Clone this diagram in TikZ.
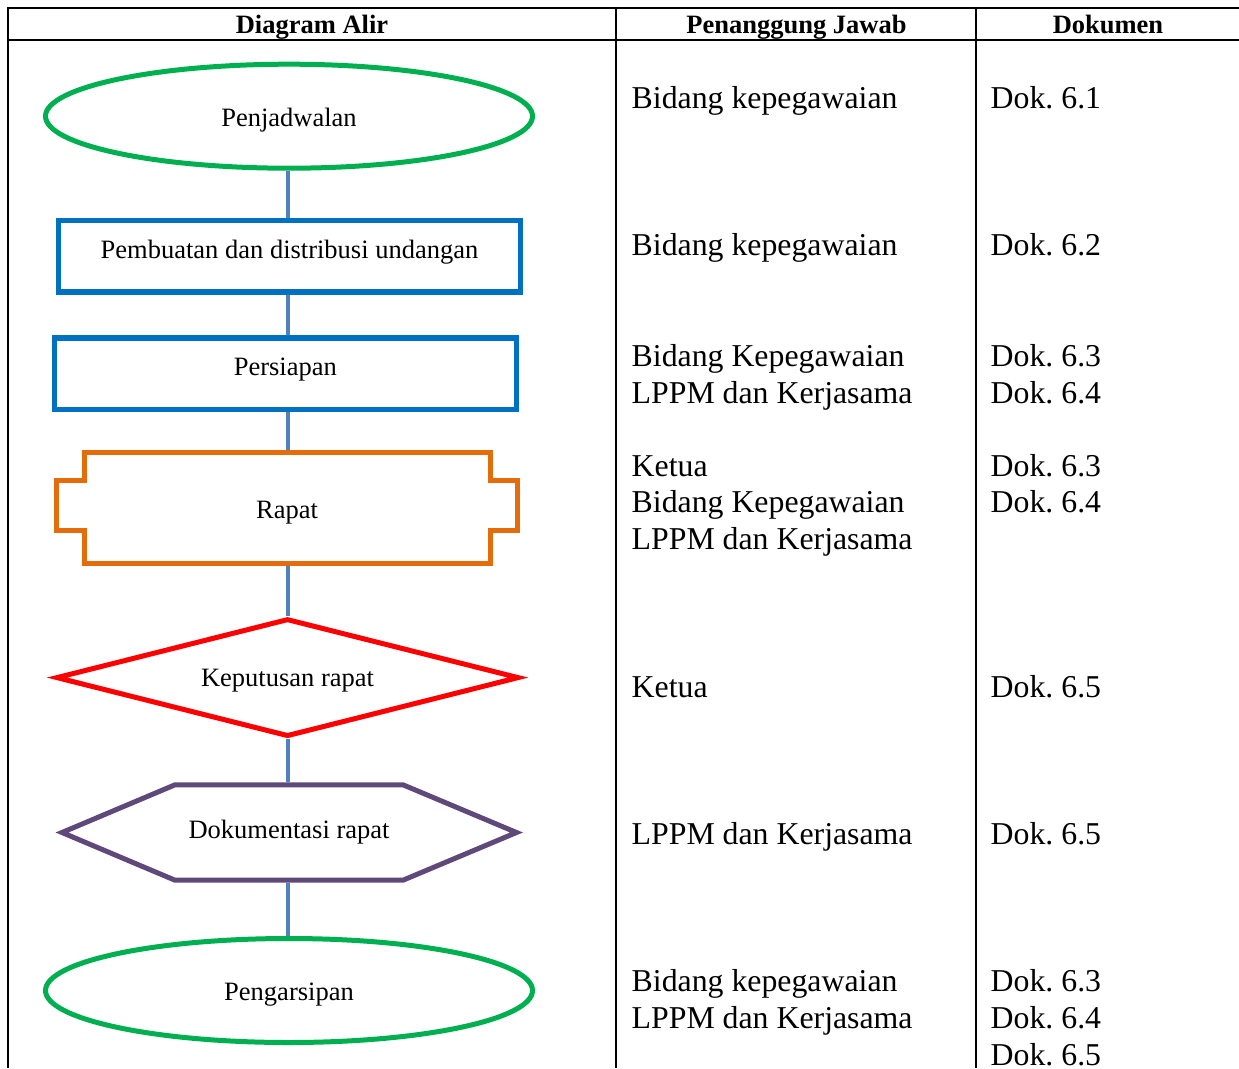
\documentclass[tikz,border=0pt]{standalone}
\usepackage{fontspec}
\setmainfont{Liberation Serif}
\usepackage{tikz}
\usetikzlibrary{shapes.geometric}
\frenchspacing

\definecolor{alirgreen}{HTML}{00B050}
\definecolor{alirblue}{HTML}{0070C0}
\definecolor{linkblue}{HTML}{4F81BD}
\definecolor{alirorange}{HTML}{E46C0A}
\definecolor{alirpurple}{HTML}{5F497A}

\newcommand{\flowfont}{\fontsize{26.5}{32}\selectfont}
\newcommand{\headfont}{\fontsize{26.5}{32}\selectfont\bfseries}
\newcommand{\cellfont}{\fontsize{31.8}{36.5}\selectfont}

% flowchart shapes
\tikzstyle{terminal}=[draw=alirgreen,%
                      ellipse,%
                      line width     = 5pt,%
                      minimum width  = 487pt,%
                      minimum height = 104pt,%
                      text height    = 26pt,%
                      font=\flowfont]
\tikzstyle{process}=[draw=alirblue, rectangle, line width=5.5pt, minimum width=462pt, minimum height=71.5pt, text depth=14pt, font=\flowfont]
\tikzstyle{meeting}=[rectangle, line width=5pt, outer sep=2.5pt, minimum width=461pt, minimum height=111.5pt, text height=26.5pt, font=\flowfont]
\tikzstyle{decision}=[draw=red, diamond, aspect=4, line width=5pt, minimum width=463pt, minimum height=118pt, text height=23pt, font=\flowfont]
\tikzstyle{prep}=[rectangle, line width=5pt, outer sep=2.5pt, minimum width=454pt, minimum height=95.5pt, font=\flowfont]
\tikzstyle{link}=[draw=linkblue, line width=4.5pt]
% table
\tikzstyle{rule}=[draw=black, line width=2pt]
\tikzstyle{head}=[anchor=base, inner sep=0pt, font=\headfont]
\tikzstyle{cell}=[anchor=base west, inner sep=0pt, font=\cellfont]

\begin{document}
\begin{tikzpicture}[x=1pt, y=-1pt]
  \useasboundingbox (0,0) rectangle (1239,1068);

  % table frame
  \draw[rule] (7,8) -- (1239,8);
  \draw[rule] (7,40) -- (1239,40);
  \draw[rule] (8,7) -- (8,1068);
  \draw[rule] (616,7) -- (616,1068);
  \draw[rule] (976,7) -- (976,1068);

  \node[head] (hdiagram) at (312,33) {Diagram Alir};
  \node[head] (hjawab) at (796.5,33) {Penanggung Jawab};
  \node[head] (hdok) at (1108,33) {Dokumen};

  % flowchart
  \node[terminal] (penjadwalan) at (289,116.2) {Penjadwalan};
  \node[process] (undangan) at (289.5,256) {Pembuatan dan distribusi undangan};
  \node[process] (persiapan) at (285.3,373.5) {Persiapan};
  \node[meeting] (rapat) at (287,507.75) {Rapat};
  \node[decision] (keputusan) at (287.5,677.6) {Keputusan rapat};
  \node[prep] (dokumentasi) at (289,832.5) {Dokumentasi rapat};
  \node[terminal] (pengarsipan) at (289,990.5) {Pengarsipan};

  % outlines of the two drawn shapes
  \draw[alirorange, line width=5pt, shift={(rapat.center)}]
    (-203,-55.75) -- (203,-55.75) -- (203,-27.75) -- (230.5,-27.75)
    -- (230.5,22.75) -- (203,22.75) -- (203,55.75) -- (-203,55.75)
    -- (-203,22.75) -- (-230.5,22.75) -- (-230.5,-27.75) -- (-203,-27.75) -- cycle;
  \draw[alirpurple, line width=5pt, shift={(dokumentasi.center)}]
    (-227,0) -- (-114,-47.7) -- (114,-47.7) -- (227.5,0)
    -- (114,47.7) -- (-114,47.7) -- cycle;

  \coordinate (spine) at (288,0);
  \draw[link] (spine |- penjadwalan.south) -- (spine |- undangan.north);
  \draw[link] (spine |- undangan.south) -- (spine |- persiapan.north);
  \draw[link] (spine |- persiapan.south) -- (spine |- rapat.north);
  \draw[link] (spine |- rapat.south) -- (spine |- keputusan.north);
  \draw[link] (spine |- keputusan.south) -- (spine |- dokumentasi.north);
  \draw[link] (spine |- dokumentasi.south) -- (spine |- pengarsipan.north);

  % penanggung jawab
  \node[cell] (jawab1) at (631.5,108) {Bidang kepegawaian};
  \node[cell] (jawab2) at (631.5,255) {Bidang kepegawaian};
  \node[cell] (jawab3a) at (631.5,366) {Bidang Kepegawaian};
  \node[cell] (jawab3b) at (631.5,403) {LPPM dan Kerjasama};
  \node[cell] (jawab4a) at (631.5,476) {Ketua};
  \node[cell] (jawab4b) at (631.5,512.5) {Bidang Kepegawaian};
  \node[cell] (jawab4c) at (631.5,549) {LPPM dan Kerjasama};
  \node[cell] (jawab5) at (631.5,697) {Ketua};
  \node[cell] (jawab6) at (631.5,844) {LPPM dan Kerjasama};
  \node[cell] (jawab7a) at (631.5,991) {Bidang kepegawaian};
  \node[cell] (jawab7b) at (631.5,1028) {LPPM dan Kerjasama};

  % dokumen
  \node[cell] (dok1) at (990.5,108) {Dok. 6.1};
  \node[cell] (dok2) at (990.5,255) {Dok. 6.2};
  \node[cell] (dok3a) at (990.5,366) {Dok. 6.3};
  \node[cell] (dok3b) at (990.5,403) {Dok. 6.4};
  \node[cell] (dok4a) at (990.5,476) {Dok. 6.3};
  \node[cell] (dok4b) at (990.5,512.5) {Dok. 6.4};
  \node[cell] (dok5) at (990.5,697) {Dok. 6.5};
  \node[cell] (dok6) at (990.5,844) {Dok. 6.5};
  \node[cell] (dok7a) at (990.5,991) {Dok. 6.3};
  \node[cell] (dok7b) at (990.5,1028) {Dok. 6.4};
  \node[cell] (dok7c) at (990.5,1065) {Dok. 6.5};
\end{tikzpicture}
\end{document}
